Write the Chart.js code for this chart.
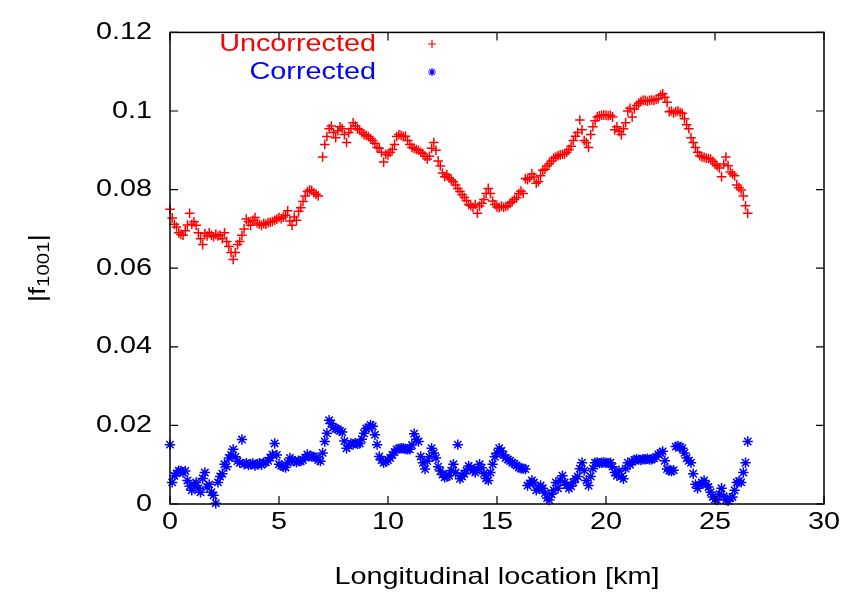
<!DOCTYPE html>
<html>
<head>
<meta charset="utf-8">
<script src="https://cdn.jsdelivr.net/npm/chart.js@4.4.1/dist/chart.umd.min.js"></script>
<style>
html,body{margin:0;padding:0;background:#fff;}
#c{display:block;width:857px;height:592px;}
</style>
</head>
<body>
<canvas id="c" width="857" height="592"></canvas>
<script>
// ---------------- data ----------------
const locations = [
0.0,0.1,0.2,0.3,0.4,0.5,0.6,0.7,0.8,0.9,
1.0,1.1,1.2,1.3,1.4,1.5,1.6,1.7,1.8,1.9,
2.0,2.1,2.2,2.3,2.4,2.5,2.6,2.7,2.8,2.9,
3.0,3.1,3.2,3.3,3.4,3.5,3.6,3.7,3.8,3.9,
4.0,4.1,4.2,4.3,4.4,4.5,4.6,4.7,4.8,4.9,
5.0,5.1,5.2,5.3,5.4,5.5,5.6,5.7,5.8,5.9,
6.0,6.1,6.2,6.3,6.4,6.5,6.6,6.7,6.8,6.9,
7.0,7.1,7.2,7.3,7.4,7.5,7.6,7.7,7.8,7.9,
8.0,8.1,8.2,8.3,8.4,8.5,8.6,8.7,8.8,8.9,
9.0,9.1,9.2,9.3,9.4,9.5,9.6,9.7,9.8,9.9,
10.0,10.1,10.2,10.3,10.4,10.5,10.6,10.7,10.8,10.9,
11.0,11.1,11.2,11.3,11.4,11.5,11.6,11.7,11.8,11.9,
12.0,12.1,12.2,12.3,12.4,12.5,12.6,12.7,12.8,12.9,
13.0,13.1,13.2,13.3,13.4,13.5,13.6,13.7,13.8,13.9,
14.0,14.1,14.2,14.3,14.4,14.5,14.6,14.7,14.8,14.9,
15.0,15.1,15.2,15.3,15.4,15.5,15.6,15.7,15.8,15.9,
16.0,16.1,16.2,16.3,16.4,16.5,16.6,16.7,16.8,16.9,
17.0,17.1,17.2,17.3,17.4,17.5,17.6,17.7,17.8,17.9,
18.0,18.1,18.2,18.3,18.4,18.5,18.6,18.7,18.8,18.9,
19.0,19.1,19.2,19.3,19.4,19.5,19.6,19.7,19.8,19.9,
20.0,20.1,20.2,20.3,20.4,20.5,20.6,20.7,20.8,20.9,
21.0,21.1,21.2,21.3,21.4,21.5,21.6,21.7,21.8,21.9,
22.0,22.1,22.2,22.3,22.4,22.5,22.6,22.7,22.8,22.9,
23.0,23.1,23.2,23.3,23.4,23.5,23.6,23.7,23.8,23.9,
24.0,24.1,24.2,24.3,24.4,24.5,24.6,24.7,24.8,24.9,
25.0,25.1,25.2,25.3,25.4,25.5,25.6,25.7,25.8,25.9,
26.0,26.1,26.2,26.3,26.4,26.5
];

const uncorrected = [
0.0750,0.0728,0.0712,0.0705,0.0690,0.0686,0.0684,0.0695,0.0710,0.0740,
0.0712,0.0718,0.0709,0.0690,0.0675,0.0660,0.0688,0.0682,0.0690,0.0684,
0.0680,0.0686,0.0682,0.0684,0.0675,0.0690,0.0668,0.0655,0.0640,0.0622,
0.0640,0.0660,0.0668,0.0684,0.0700,0.0725,0.0718,0.0709,0.0722,0.0729,
0.0715,0.0712,0.0709,0.0714,0.0712,0.0716,0.0717,0.0719,0.0722,0.0725,
0.0729,0.0726,0.0730,0.0735,0.0746,0.0720,0.0709,0.0730,0.0722,0.0745,
0.0754,0.0770,0.0784,0.0795,0.0799,0.0798,0.0792,0.0788,0.0784,null,
0.0883,0.0915,0.0935,0.0955,0.0962,0.0945,0.0932,0.0950,0.0960,0.0955,
0.0940,0.0920,0.0945,0.0955,0.0970,0.0962,0.0955,0.0952,0.0945,0.0940,
0.0938,0.0935,0.0930,0.0925,0.0918,0.0907,0.0905,0.0895,0.0870,0.0890,
0.0888,0.0895,0.0902,0.0915,0.0935,0.0940,0.0938,0.0935,0.0936,0.0925,
0.0915,0.0907,0.0905,0.0902,0.0900,0.0895,0.0892,0.0885,0.0878,0.0885,
0.0905,0.0920,0.0900,0.0873,0.0860,0.0842,0.0833,0.0838,0.0830,0.0825,
0.0820,0.0812,0.0803,0.0795,0.0787,0.0780,0.0772,0.0762,0.0759,0.0755,
0.0762,0.0740,0.0758,0.0765,0.0775,0.0790,0.0803,0.0790,0.0771,0.0762,
0.0756,0.0754,0.0758,0.0755,0.0757,0.0759,0.0765,0.0770,0.0775,0.0779,
0.0790,0.0796,0.0790,0.0828,0.0825,0.0830,0.0840,0.0832,0.0816,0.0820,
0.0835,0.0849,0.0852,0.0860,0.0866,0.0873,0.0880,0.0883,0.0886,0.0888,
0.0890,0.0890,0.0895,0.0902,0.0910,0.0925,0.0936,0.0945,0.0977,0.0952,
0.0925,0.0920,0.0907,0.0940,0.0960,0.0975,0.0985,0.0988,0.0989,0.0990,
0.0989,0.0988,0.0989,0.0985,0.0952,0.0960,0.0948,0.0940,0.0955,0.0970,
0.1000,0.1007,0.0985,0.1005,0.1014,0.1020,0.1024,0.1027,0.1027,0.1025,
0.1027,0.1028,0.1027,0.1030,0.1031,0.1040,0.1044,0.1035,0.1022,0.0998,
0.1000,0.0995,0.0998,0.1000,0.0996,0.0994,0.0980,0.0965,0.0955,0.0932,
0.0920,0.0907,0.0895,0.0886,0.0883,0.0882,0.0880,0.0879,0.0878,0.0872,
0.0865,0.0860,0.0855,0.0833,0.0865,0.0883,0.0861,0.0845,0.0840,0.0835,
0.0812,0.0805,0.0799,0.0784,0.0759,0.0740
];

const corrected = [
0.0151,0.0055,0.0072,0.0078,0.0085,0.0084,0.0080,0.0084,0.0060,0.0045,
0.0035,0.0048,0.0055,0.0040,0.0030,0.0065,0.0080,0.0043,0.0050,0.0030,
0.0022,0.0002,0.0055,0.0070,0.0077,0.0101,0.0095,0.0117,0.0125,0.0139,
0.0120,0.0109,0.0105,0.0164,0.0101,0.0104,0.0100,0.0101,0.0103,0.0098,
0.0101,0.0104,0.0100,0.0105,0.0106,0.0110,0.0118,0.0126,0.0154,0.0125,
0.0101,0.0098,0.0095,0.0093,0.0105,0.0117,0.0112,0.0109,0.0106,0.0110,
0.0109,0.0112,0.0118,0.0126,0.0122,0.0121,0.0120,0.0118,0.0112,0.0109,
0.0130,0.0159,0.0180,0.0213,0.0205,0.0195,0.0192,0.0190,0.0186,0.0183,
0.0160,0.0142,0.0148,0.0154,0.0152,0.0155,0.0153,0.0154,0.0165,0.0180,
0.0192,0.0195,0.0201,0.0198,0.0176,0.0151,0.0121,0.0112,0.0105,0.0108,
0.0112,0.0117,0.0125,0.0132,0.0139,0.0141,0.0142,0.0142,0.0140,0.0139,
0.0139,0.0150,0.0179,0.0165,0.0159,0.0121,0.0105,0.0089,0.0109,0.0120,
0.0142,0.0130,0.0117,0.0095,0.0084,0.0075,0.0068,0.0070,0.0072,0.0085,
0.0101,0.0080,0.0151,0.0064,0.0070,0.0077,0.0085,0.0097,0.0092,0.0085,
0.0080,0.0090,0.0101,0.0092,0.0077,0.0065,0.0060,0.0080,0.0101,0.0120,
0.0130,0.0142,0.0135,0.0125,0.0117,0.0113,0.0110,0.0105,0.0102,0.0098,
0.0093,0.0091,0.0090,0.0089,0.0047,0.0052,0.0060,0.0055,0.0035,0.0040,
0.0047,0.0040,0.0028,0.0015,0.0010,0.0025,0.0035,0.0055,0.0040,0.0060,
0.0072,0.0055,0.0048,0.0040,0.0045,0.0055,0.0064,0.0070,0.0090,0.0105,
0.0085,0.0060,0.0047,0.0070,0.0090,0.0105,0.0106,0.0104,0.0105,0.0106,
0.0105,0.0104,0.0105,0.0095,0.0080,0.0072,0.0085,0.0070,0.0064,0.0090,
0.0105,0.0100,0.0108,0.0112,0.0114,0.0113,0.0112,0.0114,0.0114,0.0115,
0.0113,0.0114,0.0116,0.0120,0.0126,0.0130,0.0134,0.0110,0.0089,0.0085,
0.0084,0.0086,0.0146,0.0148,0.0145,0.0142,0.0130,0.0117,0.0110,0.0105,
0.0077,0.0050,0.0040,0.0048,0.0055,0.0060,0.0050,0.0043,0.0030,0.0018,
0.0012,0.0010,0.0025,0.0040,0.0020,0.0010,0.0008,0.0015,0.0018,0.0035,
0.0055,0.0058,0.0055,0.0080,0.0105,0.0159
];

const seriesNames = ['Uncorrected', 'Corrected'];
const xTickValues = [0, 5, 10, 15, 20, 25, 30];
const xTickLabels = ['0', '5', '10', '15', '20', '25', '30'];
const yTickValues = [0, 0.02, 0.04, 0.06, 0.08, 0.1, 0.12];
const yTickLabels = ['0', '0.02', '0.04', '0.06', '0.08', '0.1', '0.12'];
const xTitle = 'Longitudinal location [km]';
const yTitleParts = ['|f', '1001', '|'];

// ---------------- styling ----------------
const FONT = '"Liberation Sans", Arial, Helvetica, sans-serif';
const FSIZE = 24;
const SX = 1.2;               // horizontal text stretch of the reference
const RED = '#ff0000', BLUE = '#0000ff';

function toPoints(vals) {
  return locations.map((x, i) => ({ x: x, y: vals[i] }));
}

function drawMarker(ctx, style, x, y, r) {
  ctx.beginPath();
  ctx.moveTo(x - r, y); ctx.lineTo(x + r, y);
  ctx.moveTo(x, y - r); ctx.lineTo(x, y + r);
  if (style === 'star') {
    const d = r * Math.SQRT1_2;
    ctx.moveTo(x - d, y - d); ctx.lineTo(x + d, y + d);
    ctx.moveTo(x - d, y + d); ctx.lineTo(x + d, y - d);
  }
  ctx.stroke();
}

const framePlugin = {
  id: 'gnuplotFrame',
  beforeDraw(chart) {
    const ctx = chart.ctx;
    const orig = ctx.fillText;
    chart.$origFillText = orig;
    ctx.fillText = function (t, x, y, mw) {
      this.save();
      this.translate(x, y);
      this.scale(SX, 1);
      orig.call(this, t, 0, 0);
      this.restore();
    };
  },
  afterDraw(chart) {
    const ctx = chart.ctx;
    const orig = chart.$origFillText;
    if (orig) { ctx.fillText = orig; }
    const ca = chart.chartArea;
    const xs = chart.scales.x, ys = chart.scales.y;
    ctx.save();
    // frame
    ctx.strokeStyle = '#000';
    ctx.lineWidth = 1.5;
    ctx.strokeRect(ca.left, ca.top, ca.right - ca.left, ca.bottom - ca.top);
    // inward ticks on all four sides
    const TL = 8;
    ctx.lineWidth = 1.2;
    ctx.beginPath();
    xs.ticks.forEach(t => {
      const px = xs.getPixelForValue(t.value);
      ctx.moveTo(px, ca.bottom); ctx.lineTo(px, ca.bottom - TL);
      ctx.moveTo(px, ca.top); ctx.lineTo(px, ca.top + TL);
    });
    ys.ticks.forEach(t => {
      const py = ys.getPixelForValue(t.value);
      ctx.moveTo(ca.left, py); ctx.lineTo(ca.left + TL, py);
      ctx.moveTo(ca.right, py); ctx.lineTo(ca.right - TL, py);
    });
    ctx.stroke();

    // legend (inside, top-left, text right-aligned, marker right of text)
    const legY = [44, 72];
    ctx.font = FSIZE + 'px ' + FONT;
    ctx.textAlign = 'right';
    ctx.textBaseline = 'middle';
    chart.data.datasets.forEach((ds, i) => {
      ctx.fillStyle = ds.borderColor;
      ctx.save();
      ctx.translate(376, legY[i]);
      ctx.scale(SX, 1);
      ctx.fillText(ds.label, 0, 0);
      ctx.restore();
      ctx.strokeStyle = ds.borderColor;
      ctx.lineWidth = 1.2;
      drawMarker(ctx, ds.pointStyle, 432, legY[i], 4);
    });

    // y title |f_1001| rotated
    ctx.fillStyle = '#000';
    ctx.textAlign = 'left';
    ctx.textBaseline = 'middle';
    const mainF = FSIZE + 'px ' + FONT, subF = '17px ' + FONT;
    ctx.font = mainF; const w0 = ctx.measureText(yTitleParts[0]).width;
    ctx.font = subF;  const w1 = ctx.measureText(yTitleParts[1]).width;
    ctx.font = mainF; const w2 = ctx.measureText(yTitleParts[2]).width;
    const tot = w0 + w1 + w2;
    ctx.translate(38, (ca.top + ca.bottom) / 2);
    ctx.rotate(-Math.PI / 2);
    ctx.scale(SX, 1);
    let x0 = -tot / 2;
    ctx.font = mainF; ctx.fillText(yTitleParts[0], x0, 0);
    ctx.font = subF;  ctx.fillText(yTitleParts[1], x0 + w0, 6);
    ctx.font = mainF; ctx.fillText(yTitleParts[2], x0 + w0 + w1, 0);
    ctx.restore();
  }
};

new Chart(document.getElementById('c'), {
  type: 'scatter',
  data: {
    datasets: [
      { label: seriesNames[0], data: toPoints(uncorrected), pointStyle: 'cross',
        pointRadius: 4.8, pointBorderWidth: 1.5, borderColor: RED, backgroundColor: RED, clip: false },
      { label: seriesNames[1], data: toPoints(corrected), pointStyle: 'star',
        pointRadius: 5.2, pointBorderWidth: 1.5, borderColor: BLUE, backgroundColor: BLUE, clip: false }
    ]
  },
  options: {
    responsive: false,
    animation: false,
    devicePixelRatio: 1,
    events: [],
    layout: { padding: { left: 0, top: 20, right: 33, bottom: 0 } },
    plugins: { legend: { display: false }, tooltip: { enabled: false } },
    scales: {
      x: {
        type: 'linear', min: 0, max: 30,
        afterBuildTicks: s => { s.ticks = xTickValues.map(v => ({ value: v })); },
        afterFit: s => { s.height = 88; },
        grid: { display: false, drawTicks: false },
        border: { display: false },
        ticks: {
          padding: 4, color: '#000', maxRotation: 0, autoSkip: false,
          font: { family: FONT, size: FSIZE },
          callback: v => { const i = xTickValues.indexOf(v); return i >= 0 ? xTickLabels[i] : ''; }
        },
        title: { display: true, text: xTitle, color: '#000',
                 font: { family: FONT, size: FSIZE }, padding: { top: 0, bottom: 0 } }
      },
      y: {
        type: 'linear', min: 0, max: 0.12,
        afterBuildTicks: s => { s.ticks = yTickValues.map(v => ({ value: v })); },
        afterFit: s => { s.width = 170; },
        grid: { display: false, drawTicks: false },
        border: { display: false },
        ticks: {
          padding: 18, color: '#000', autoSkip: false,
          font: { family: FONT, size: FSIZE },
          callback: v => { const i = yTickValues.indexOf(v); return i >= 0 ? yTickLabels[i] : ''; }
        }
      }
    }
  },
  plugins: [framePlugin]
});
</script>
</body>
</html>
